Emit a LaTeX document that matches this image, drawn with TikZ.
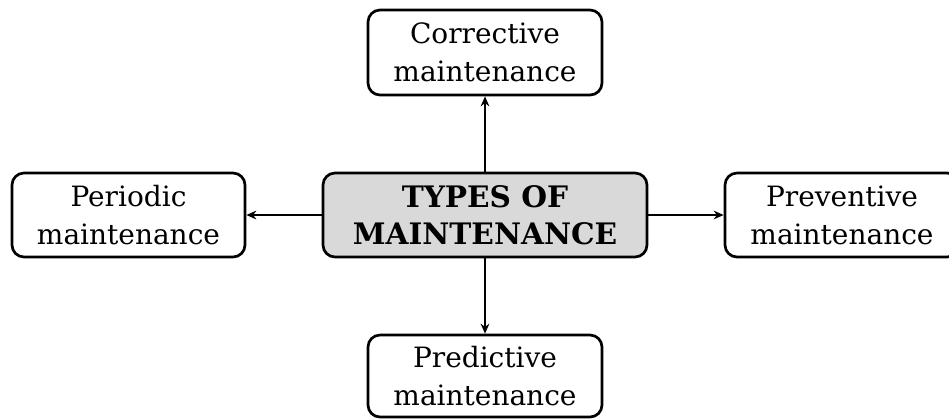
\documentclass[tikz,border=0pt]{standalone}
\usepackage{fontspec}
\setmainfont{DejaVu Serif}
\usetikzlibrary{arrows.meta}
\begin{document}
\begin{tikzpicture}[x=0.75pt,y=-0.75pt,
  box/.style={draw=black, line width=2pt, rounded corners=9pt, fill=white,
    align=center, inner sep=0pt,
    font=\fontsize{21}{28.5}\selectfont},
  hub/.style={box, fill=black!15, font=\bfseries\fontsize{22.2}{28}\selectfont},
  link/.style={line width=1.3pt, -{Stealth[length=7.5pt,width=6.5pt]}}
]
\useasboundingbox (0,0) rectangle (949,419);
\node[hub, minimum width=324*0.75pt, minimum height=84*0.75pt] (hub) at (485,215) {TYPES OF\\MAINTENANCE};
\node[box, minimum width=234*0.75pt, minimum height=85*0.75pt] (corr) at (485,52.5) {Corrective\\maintenance};
\node[box, minimum width=233*0.75pt, minimum height=84*0.75pt] (peri) at (128.5,215) {Periodic\\maintenance};
\node[box, minimum width=234*0.75pt, minimum height=84*0.75pt] (prev) at (842,215) {Preventive\\maintenance};
\node[box, minimum width=234*0.75pt, minimum height=82*0.75pt] (pred) at (485,376) {Predictive\\maintenance};
\draw[link] (hub) -- (corr);
\draw[link] (hub) -- (peri);
\draw[link] (hub) -- (prev);
\draw[link] (hub) -- (pred);
\end{tikzpicture}
\end{document}
